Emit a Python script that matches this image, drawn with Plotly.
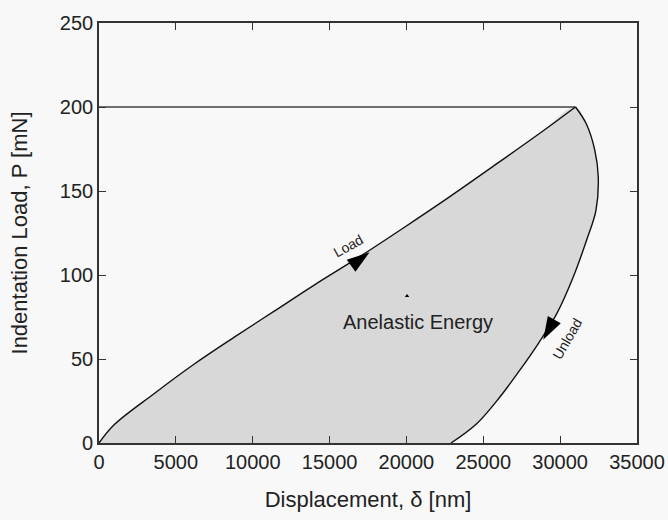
import plotly.graph_objects as go

# Loading branch of the indentation cycle (displacement in nm, load in mN)
load_x = [0, 1000, 3600, 6200, 8800, 11400, 14000, 16800, 19800, 22800, 26000, 28700, 31000]
load_y = [0, 11, 29.5, 47, 63, 78.5, 94, 110, 128, 146.5, 167, 184.5, 200]

# Unloading branch, from peak load back to zero load
unload_x = [31000, 31700, 32250, 32480, 32330, 31730, 30860, 29780, 28600, 27390, 26090, 24570, 22900]
unload_y = [200, 190, 174.5, 158.5, 138.5, 121, 99, 77, 59.5, 43.5, 27.5, 11.5, 0]

peak_load = 200
peak_disp = 31000

# Arrowhead tips marking the direction of each branch
arrow_x = [17600, 28900]
arrow_y = [113.5, 61.5]
arrow_angle = [54, 209]

x_ticks = [0, 5000, 10000, 15000, 20000, 25000, 30000, 35000]
y_ticks = [0, 50, 100, 150, 200, 250]

BG = "#f8f8f8"
FONT = "Liberation Sans, Arial, sans-serif"
INK = "#222222"
SMOOTH = 1.0

fig = go.Figure()

# Shaded hysteresis area between the two branches
fig.add_trace(go.Scatter(
    x=load_x + unload_x[1:], y=load_y + unload_y[1:],
    mode="lines", fill="toself", fillcolor="#d8d8d8",
    line=dict(width=0, shape="spline", smoothing=SMOOTH),
    hoverinfo="skip", showlegend=False,
))

# Peak-load reference line
fig.add_trace(go.Scatter(
    x=[0, peak_disp], y=[peak_load, peak_load], mode="lines",
    line=dict(color="#707070", width=2), showlegend=False,
))

# Load and unload curves
fig.add_trace(go.Scatter(
    x=load_x, y=load_y, mode="lines",
    line=dict(color="#111111", width=1.4, shape="spline", smoothing=SMOOTH),
    showlegend=False,
))
fig.add_trace(go.Scatter(
    x=unload_x, y=unload_y, mode="lines",
    line=dict(color="#111111", width=1.4, shape="spline", smoothing=SMOOTH),
    showlegend=False,
))

# Direction arrowheads
fig.add_trace(go.Scatter(
    x=arrow_x, y=arrow_y, mode="markers",
    marker=dict(symbol="arrow", size=24, angle=arrow_angle, color="#000000",
                line=dict(width=0)),
    showlegend=False,
))

# Small mark inside the area
fig.add_trace(go.Scatter(
    x=[20040], y=[87.5], mode="markers",
    marker=dict(symbol="triangle-up", size=4, color="#000000"),
    showlegend=False,
))

fig.add_annotation(x=16200, y=117, text="Load", showarrow=False, textangle=-29,
                   font=dict(family=FONT, size=14, color=INK))
fig.add_annotation(x=30450, y=62, text="Unload", showarrow=False, textangle=-60,
                   font=dict(family=FONT, size=14, color=INK))
fig.add_annotation(x=20750, y=72, text="Anelastic Energy", showarrow=False,
                   font=dict(family=FONT, size=20, color=INK))

axis_common = dict(
    showline=True, linecolor="#333333", linewidth=1.6, mirror="ticks",
    ticks="inside", ticklen=7, tickwidth=1.4, tickcolor="#333333",
    showgrid=False, zeroline=False, automargin=False,
    tickfont=dict(family=FONT, size=20, color=INK),
)

fig.update_xaxes(
    range=[0, 35000], tickvals=x_ticks, ticktext=[str(v) for v in x_ticks],
    title=dict(text="Displacement, δ [nm]", font=dict(family=FONT, size=22, color=INK),
               standoff=20),
    **axis_common,
)
fig.update_yaxes(
    range=[0, 250], tickvals=y_ticks, ticktext=[str(v) for v in y_ticks],
    title=dict(text="Indentation Load, P [mN]", font=dict(family=FONT, size=22, color=INK),
               standoff=26),
    **axis_common,
)

fig.update_layout(
    width=668, height=520,
    margin=dict(l=99, r=31, t=23, b=77),
    paper_bgcolor=BG, plot_bgcolor=BG,
    font=dict(family=FONT, color=INK),
)

fig.write_html("out.html")
